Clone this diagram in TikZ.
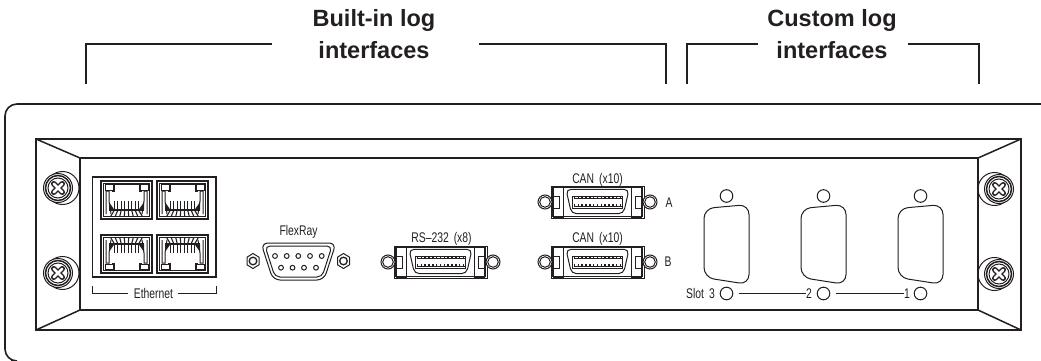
\documentclass[tikz,border=0pt]{standalone}
\usepackage{fontspec}
\setmainfont{Liberation Sans}
\newfontfamily\platefont[FakeStretch=0.74]{Liberation Sans}
\definecolor{inkc}{HTML}{231F20}
\tikzset{
	title/.style={font=\fontsize{23.5}{32}\selectfont\bfseries,text=inkc,align=center,inner sep=0pt},
	plate/.style={font=\platefont\fontsize{14}{16}\selectfont,text=inkc,inner sep=0pt},
	bracket/.style={line width=1.6pt,inkc},
	panel/.style={line width=1.5pt,inkc},
	part/.style={line width=1pt,inkc},
	rjport/.pic={
		\draw[line width=1.5pt,inkc] (0,0) rectangle (51,38);
		\draw[line width=.7pt,inkc] (2.2,2.2) rectangle (48.8,35.8);
		\draw[part] (4,3.5) rectangle (12,9);
		\draw[part] (39,3.5) rectangle (47,9);
		\draw[part] (5,33) |- (8,10) -- (8,20) -- (10,33);
		\draw[part] (46,33) |- (43,10) -- (43,20) -- (41,33);
		\draw[part] (10.5,10) -- (13,10) |- (38,3) |- (40.5,10);
		\draw[line width=2pt,inkc] (8,29) -- (43,29);
		\foreach \chan in {0,...,7} {
			\draw[line width=1.1pt,inkc] (13.5+\chan*3.43,20) -- (13.5+\chan*3.43,29);
			\draw[line width=1.1pt,inkc] (13.5+\chan*3.43,29) -- (25.5+1.3*\chan*3.43-15.6,35);
		}
		\fill[inkc] (8,21) -- (13.5,29) -- (8,29) -- cycle (43,21) -- (37.5,29) -- (43,29) -- cycle;
	},
	ribbon/.pic={
		\draw[part] (-46.5,-16) rectangle (46.5,16);
		\draw[line width=.7pt,inkc] (-45,-14.5) rectangle (45,14.5);
		\foreach \side in {-1,1} {
			\draw[part] (\side*44,-15) rectangle (\side*34,15);
			\draw[part,fill=white] (\side*44,-6) rectangle (\side*38,6);
			\draw[part,fill=white] (\side*52.5,0) circle (7);
			\draw[part] (\side*52.5,0) circle (5.3);
		}
		\draw[part,rounded corners=5pt] (0,-12.7) -- (31.5,-12.7) -- (26,11.7) -- (-26,11.7) -- (-31.5,-12.7) -- cycle;
		\draw[part] (-25,-6) rectangle (25,6.5);
		\draw[line width=1.2pt,inkc] (-24,-3.2) -- (24,-3.2) (-24,4.2) -- (24,4.2);
		\foreach \chan in {0,...,12} {
			\draw[line width=1.4pt,inkc] (-23+\chan*3.83,-5.5) -- (-23+\chan*3.83,-3.2);
			\draw[line width=1.4pt,inkc] (-23+\chan*3.83,2) -- (-23+\chan*3.83,4.2);
		}
	},
	screw/.pic={
		\draw[line width=1pt,inkc,fill=white] (0,0) circle (14.5);
		\draw[line width=1.5pt,inkc] (0,0) circle (12.5);
		\draw[line width=1pt,inkc] (0,0) circle (10);
		\draw[line width=5.4pt,inkc,line cap=round] (-4.3,-4.3) -- (4.3,4.3) (-4.3,4.3) -- (4.3,-4.3);
		\draw[line width=2.6pt,white,line cap=round] (-4.3,-4.3) -- (4.3,4.3) (-4.3,4.3) -- (4.3,-4.3);
	}
}
\begin{document}
\begin{tikzpicture}[x=1pt,y=-1pt]
	\useasboundingbox (0,0) rectangle (1041,361);
	% top brackets
	\node[title,anchor=north] (builtin) at (374,9) {Built-in log\\interfaces};
	\node[title,anchor=north] (custom) at (832,9) {Custom log\\interfaces};
	\draw[bracket] (86,84) |- (272,44);
	\draw[bracket] (479,44) -| (666,84);
	\draw[bracket] (687,84) |- (758,44);
	\draw[bracket] (908,44) -| (979,84);
	% housing, open on the right
	\draw[bracket,rounded corners=12pt] (1041,104) -- (5,104) -- (5,361) -- (11,361);
	% front plate
	\draw[panel] (36,139) rectangle (1021,330);
	\draw[panel] (80,158) rectangle (978,310);
	\draw[panel] (36,139) -- (80,158) (36,330) -- (80,310) (1021,139) -- (978,158) (1021,330) -- (978,310);
	% screws
	\foreach \yy in {188,273} {
		\draw[part] (62.5,\yy) circle (16.5);
		\pic at (58,\yy) {screw};
		\draw[part] (994.5,\yy+1) circle (16.5);
		\pic at (999,\yy+1) {screw};
	}
	% ethernet block
	\draw[part,line width=1.2pt] (92.5,177) rectangle (216,277);
	\pic at (101,181) {rjport};
	\pic at (157,181) {rjport};
	\pic[yscale=-1] at (101,273) {rjport};
	\pic[yscale=-1] at (157,273) {rjport};
	\node[plate] (ether) at (153.5,293.5) {Ethernet};
	\draw[part] (92.5,286) |- ([xshift=-6pt]ether.west);
	\draw[part] (216,286) |- ([xshift=5pt]ether.east);
	% flexray
	\node[plate] (flexray) at (298.5,232) {FlexRay};
	\draw[part,rounded corners=7pt] (298,243) -- (336,243) -- (324,280) -- (273,280) -- (261,243) -- cycle;
	\draw[part,rounded corners=5pt] (298,246) -- (332,246) -- (322,277) -- (275,277) -- (265,246) -- cycle;
	\foreach \xx in {275,286.7,298.3,310,321.7} \draw[part] (\xx,256) circle (2.4);
	\foreach \xx in {281,292.5,304,316} \draw[part] (\xx,267.7) circle (2.4);
	\foreach \xx in {253,343.5} {
		\draw[part] (\xx,253.5) -- (\xx+6,257.2) -- (\xx+6,264.8) -- (\xx,268.5) -- (\xx-6,264.8) -- (\xx-6,257.2) -- cycle;
		\draw[line width=1.3pt,inkc] (\xx,261) circle (3.8);
	}
	% ribbon connectors
	\pic at (440.5,262) {ribbon};
	\pic at (597.5,202) {ribbon};
	\pic at (597.5,262) {ribbon};
	\node[plate] (rs) at (441.5,239) {RS–232\hspace{5pt}(x8)};
	\node[plate] (cana) at (597.5,179.5) {CAN\hspace{5pt}(x10)};
	\node[plate] (canb) at (597.5,239) {CAN\hspace{5pt}(x10)};
	\node[plate] (porta) at (669,203) {A};
	\node[plate] (portb) at (668,262) {B};
	% custom slots
	\foreach \xx in {726.5,823.5,920.5} {
		\draw[part] (\xx,196) circle (6.3);
		\draw[part] (\xx,293.5) circle (6.3);
		\draw[part,rounded corners=10pt] (\xx,206.5) -- (\xx+22.5,204.5) -- (\xx+22.5,284.5) -- (\xx-22.5,277.5) -- (\xx-22.5,208.5) -- cycle;
	}
	\node[plate,anchor=east] (slot) at (715,293.5) {Slot\hspace{5pt}3};
	\node[plate] (twoo) at (809,293.5) {2};
	\node[plate] (onee) at (907,293.5) {1};
	\draw[part] (738.5,293.5) -- (twoo.west);
	\draw[part] (835.5,293.5) -- (onee.west);
\end{tikzpicture}
\end{document}
